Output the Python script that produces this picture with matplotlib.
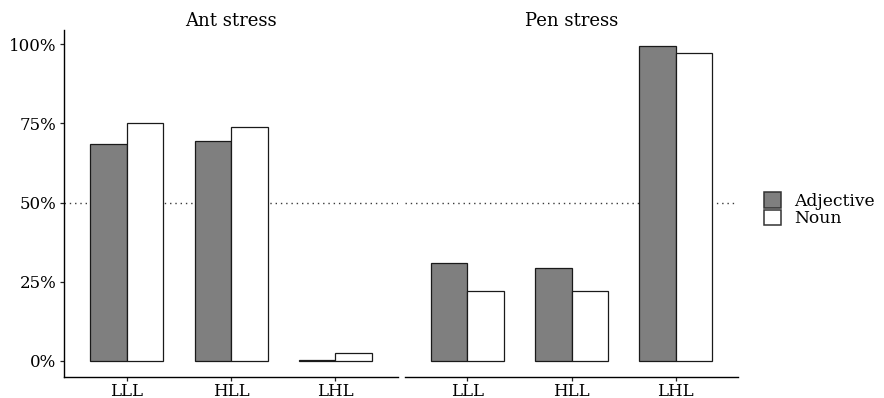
import numpy as np
import matplotlib
matplotlib.use("Agg")
import matplotlib.pyplot as plt
from matplotlib.patches import Patch
from matplotlib.ticker import PercentFormatter

plt.rcParams['font.family'] = ['DejaVu Serif']

# share of responses per weight pattern
patterns = ["LLL", "HLL", "LHL"]
panels = ["Ant stress", "Pen stress"]
groups = ["Adjective", "Noun"]
ant_adjective = [0.685, 0.694, 0.004]
ant_noun = [0.750, 0.740, 0.024]
pen_adjective = [0.308, 0.292, 0.994]
pen_noun = [0.221, 0.221, 0.973]

data = {
    "Ant stress": (ant_adjective, ant_noun),
    "Pen stress": (pen_adjective, pen_noun),
}
fills = ["#7f7f7f", "white"]

fig = plt.figure(figsize=(8.84, 3.98), dpi=100)
axes = [
    fig.add_axes([0.0727, 0.0535, 0.3775, 0.871]),
    fig.add_axes([0.4581, 0.0535, 0.3771, 0.871]),
]

x = np.arange(1, len(patterns) + 1)
width = 0.35

for i, (ax, name) in enumerate(zip(axes, panels)):
    adj, noun = data[name]
    ax.axhline(0.5, color="#3a3a3a", lw=1.0, ls=(0, (1, 2.8)), zorder=1)
    ax.bar(x - width / 2, adj, width, color=fills[0], edgecolor="#1a1a1a", lw=0.9, zorder=2)
    ax.bar(x + width / 2, noun, width, color=fills[1], edgecolor="#1a1a1a", lw=0.9, zorder=2)

    ax.set_xlim(0.4, 3.6)
    ax.set_ylim(-0.05, 1.045)
    ax.set_xticks(x)
    ax.set_xticklabels(patterns)
    ax.set_yticks([0, 0.25, 0.5, 0.75, 1.0])
    ax.yaxis.set_major_formatter(PercentFormatter(1.0, decimals=0))
    ax.set_title(name, fontsize=13, pad=1.5)

    for s in ["top", "right"]:
        ax.spines[s].set_visible(False)
    ax.spines["bottom"].set_linewidth(1.0)
    ax.spines["left"].set_linewidth(1.0)
    ax.tick_params(axis="both", labelsize=12, length=3.2, width=0.9, colors="#222222",
                   labelcolor="black")
    ax.tick_params(axis="x", pad=1)
    ax.tick_params(axis="y", pad=2.5)
    if i == 1:
        ax.spines["left"].set_visible(False)
        ax.tick_params(axis="y", left=False, labelleft=False)

handles = [Patch(facecolor=fills[0], edgecolor="#333333", lw=1.1),
           Patch(facecolor=fills[1], edgecolor="#333333", lw=1.1)]
fig.legend(handles, groups, loc="center left", bbox_to_anchor=(0.855, 0.473),
           frameon=False, fontsize=12.3, handlelength=1.0, handleheight=1.0,
           labelspacing=0.0, handletextpad=0.75, borderpad=0)

fig.savefig("out.png", dpi=100)
